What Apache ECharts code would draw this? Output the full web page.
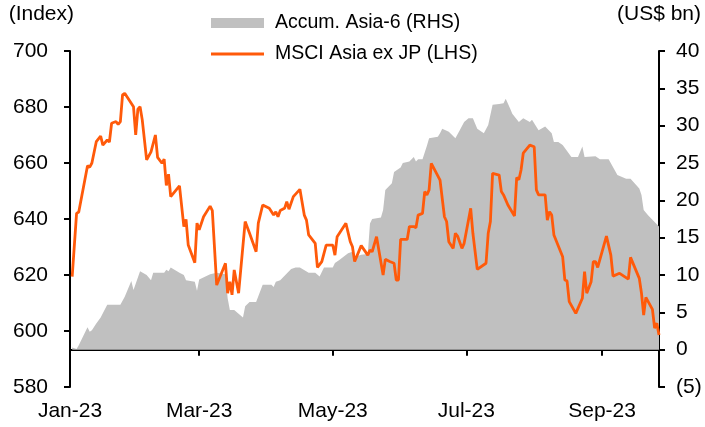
<!DOCTYPE html>
<html>
<head>
<meta charset="utf-8">
<script src="https://cdn.jsdelivr.net/npm/echarts@6/dist/echarts.min.js"></script>
<style>
html,body{margin:0;padding:0;background:#fff;}
#chart{width:705px;height:427px;}
</style>
</head>
<body>
<div id="chart"></div>
<script>
// MSCI Asia ex JP index (LHS)
var msciDates = ['2023-01-02','2023-01-04','2023-01-05','2023-01-09','2023-01-10','2023-01-11','2023-01-13','2023-01-15','2023-01-16','2023-01-18','2023-01-19','2023-01-20','2023-01-22','2023-01-23','2023-01-24','2023-01-25','2023-01-26','2023-01-30','2023-01-31','2023-02-01','2023-02-02','2023-02-03','2023-02-05','2023-02-07','2023-02-09','2023-02-10','2023-02-12','2023-02-13','2023-02-14','2023-02-15','2023-02-16','2023-02-20','2023-02-22','2023-02-23','2023-02-24','2023-02-27','2023-02-28','2023-03-01','2023-03-03','2023-03-06','2023-03-07','2023-03-09','2023-03-13','2023-03-14','2023-03-15','2023-03-16','2023-03-17','2023-03-19','2023-03-22','2023-03-24','2023-03-27','2023-03-28','2023-03-30','2023-04-02','2023-04-04','2023-04-05','2023-04-06','2023-04-07','2023-04-09','2023-04-10','2023-04-11','2023-04-13','2023-04-16','2023-04-18','2023-04-19','2023-04-20','2023-04-23','2023-04-24','2023-04-26','2023-04-28','2023-05-01','2023-05-02','2023-05-03','2023-05-07','2023-05-09','2023-05-10','2023-05-11','2023-05-14','2023-05-17','2023-05-18','2023-05-19','2023-05-21','2023-05-24','2023-05-25','2023-05-27','2023-05-29','2023-05-30','2023-05-31','2023-06-01','2023-06-04','2023-06-05','2023-06-07','2023-06-08','2023-06-09','2023-06-11','2023-06-12','2023-06-13','2023-06-14','2023-06-15','2023-06-19','2023-06-21','2023-06-22','2023-06-23','2023-06-25','2023-06-26','2023-06-27','2023-06-29','2023-06-30','2023-07-03','2023-07-04','2023-07-06','2023-07-10','2023-07-11','2023-07-12','2023-07-13','2023-07-16','2023-07-17','2023-07-18','2023-07-20','2023-07-23','2023-07-24','2023-07-25','2023-07-26','2023-07-27','2023-07-30','2023-08-01','2023-08-02','2023-08-03','2023-08-06','2023-08-07','2023-08-08','2023-08-09','2023-08-10','2023-08-14','2023-08-15','2023-08-16','2023-08-17','2023-08-20','2023-08-23','2023-08-24','2023-08-25','2023-08-27','2023-08-28','2023-08-29','2023-08-30','2023-09-03','2023-09-05','2023-09-06','2023-09-09','2023-09-13','2023-09-14','2023-09-18','2023-09-19','2023-09-20','2023-09-21','2023-09-24','2023-09-25','2023-09-26','2023-09-27'];
var msciValues = [619.4,642,642.5,659,658.5,660,667.6,669.6,666.4,668.2,667.5,674.2,674.8,673.8,674.8,684.3,684.9,680.1,670,679.2,680.1,675.4,661.1,664,670,662,659.9,661.4,652,656,648,651.8,637.3,639.9,630.7,624.4,638.5,636.1,640.8,644.6,643,616.4,624.2,613.5,617.6,612.9,621.8,613.5,639.1,634.9,628.3,638.5,645,643.8,641.4,642.6,640.8,643,643.8,646.2,643.5,648,650.6,641.4,639.6,634.3,631.3,622.7,624.8,630.7,630.7,627.1,633.7,638.5,631.9,630.1,624.8,630.5,627.1,628.9,628.3,633.7,620,625.6,624.8,624.2,618.2,618.2,632.7,632.7,637.3,637.3,636.9,641.4,642,649.8,648.6,650.4,659.9,653.9,640.8,639.1,631.9,629.5,634.9,633.9,629.5,631.3,643.8,634.9,622,624.2,634.9,639.1,656.3,655.7,649.8,648.6,645,641.1,654.8,654,657.5,663.5,666.4,665.8,650.4,648.6,648.6,639.6,642.6,641.4,634.3,626.5,618.2,617.9,610.5,606.3,611.7,621.2,613.5,617.6,624.8,624.8,622.7,633.9,627.1,619.6,620.6,618.5,626.3,618.8,613.5,605.7,612,607.7,601,602.8,598.6];

// Accumulated Asia-6 flows, US$ bn (RHS)
var flowDates = ['2023-01-02','2023-01-04','2023-01-05','2023-01-09','2023-01-10','2023-01-11','2023-01-13','2023-01-15','2023-01-18','2023-01-24','2023-01-26','2023-01-29','2023-01-30','2023-02-02','2023-02-05','2023-02-07','2023-02-08','2023-02-13','2023-02-14','2023-02-15','2023-02-16','2023-02-20','2023-02-22','2023-02-23','2023-02-27','2023-02-28','2023-03-01','2023-03-06','2023-03-09','2023-03-13','2023-03-14','2023-03-15','2023-03-17','2023-03-21','2023-03-22','2023-03-24','2023-03-27','2023-03-30','2023-04-03','2023-04-04','2023-04-05','2023-04-07','2023-04-10','2023-04-12','2023-04-14','2023-04-16','2023-04-20','2023-04-23','2023-04-25','2023-04-27','2023-05-01','2023-05-02','2023-05-04','2023-05-08','2023-05-10','2023-05-11','2023-05-14','2023-05-17','2023-05-18','2023-05-19','2023-05-23','2023-05-24','2023-05-25','2023-05-28','2023-05-29','2023-06-01','2023-06-02','2023-06-05','2023-06-07','2023-06-08','2023-06-09','2023-06-11','2023-06-13','2023-06-14','2023-06-18','2023-06-19','2023-06-20','2023-06-23','2023-06-26','2023-06-28','2023-06-30','2023-07-02','2023-07-04','2023-07-06','2023-07-09','2023-07-11','2023-07-13','2023-07-16','2023-07-18','2023-07-19','2023-07-21','2023-07-22','2023-07-25','2023-07-27','2023-07-30','2023-07-31','2023-08-03','2023-08-06','2023-08-09','2023-08-10','2023-08-12','2023-08-14','2023-08-18','2023-08-21','2023-08-23','2023-08-24','2023-08-29','2023-08-31','2023-09-04','2023-09-08','2023-09-12','2023-09-14','2023-09-18','2023-09-19','2023-09-20','2023-09-22','2023-09-25','2023-09-27'];
var flowValues = [0.3,0.1,0.6,3.0,2.4,2.6,3.5,4.3,6.0,6.0,7.1,9.2,8.0,10.5,10.0,9.3,10.3,10.3,10.7,10.5,11.0,10.3,10.0,9.3,9.1,7.9,9.4,10.1,10.3,10.1,6.9,5.3,5.3,4.3,5.8,6.4,6.4,8.7,8.7,8.4,9.1,9.3,10.2,10.8,11.0,11.0,10.3,10.3,9.8,11.0,11.0,11.6,12.0,12.9,13.1,12.4,12.7,12.8,16.9,17.5,17.7,18.7,21.4,22.3,23.8,24.4,25.0,25.2,25.8,25.2,25.5,25.5,27.3,28.3,28.5,29.0,29.6,29.2,28.3,29.4,30.5,31.0,31.0,29.6,29.0,30.1,32.8,32.9,33.0,33.6,32.3,31.6,30.5,31.0,30.5,30.8,29.4,29.9,29.0,27.8,27.8,27.4,25.8,25.8,27.2,25.8,25.9,25.5,25.5,23.4,22.9,22.9,21.6,20.7,18.7,18.0,17.1,16.5];

var months = ['Jan','Feb','Mar','Apr','May','Jun','Jul','Aug','Sep','Oct','Nov','Dec'];

window.onload = function(){
	// one category per calendar day, Jan 1 to Sep 27
	var days = [];
	var t = Date.UTC(2023,0,1), end = Date.UTC(2023,8,27);
	for(; t <= end; t += 86400000){
		days.push(new Date(t).toISOString().slice(0,10));
	}
	function isTick(idx, val){
		var m = +val.slice(5,7);
		return val.slice(8) === '01' && m % 2 === 1;
	}
	function pairs(d, v){
		return d.map(function(x, i){ return [x, v[i]]; });
	}
	var font = "'Liberation Sans', Arial, sans-serif";
	var myChart = echarts.init(document.getElementById('chart'));
	var option = {
		animation:false,
		textStyle:{fontFamily:font},
		grid:{left:70, right:46, top:51, bottom:40},
		legend:[{
			left:206, top:8,
			itemWidth:53, itemHeight:10,
			textStyle:{fontSize:19.5, color:'#000', padding:[0,0,0,6]},
			data:[{name:'Accum. Asia-6 (RHS)', icon:'rect'}]
		},{
			left:206, top:39,
			itemWidth:53, itemHeight:3,
			textStyle:{fontSize:19.5, color:'#000', padding:[0,0,0,6]},
			data:[{name:'MSCI Asia ex JP (LHS)', icon:'rect'}]
		}],
		xAxis:{
			type:'category',
			data:days,
			boundaryGap:false,
			axisLine:{lineStyle:{color:'#000', width:2}},
			axisTick:{interval:isTick, length:6, lineStyle:{color:'#000', width:2}},
			axisLabel:{
				interval:isTick, margin:14, fontSize:21, color:'#000',
				formatter:function(v){ return months[+v.slice(5,7)-1] + '-' + v.slice(2,4); }
			},
			splitLine:{show:false}
		},
		yAxis:[{
			type:'value',
			min:580, max:700, interval:20,
			name:'(Index)', nameLocation:'end', nameGap:26,
			nameTextStyle:{fontSize:21, color:'#000', align:'right', padding:[0,-4,0,0]},
			axisLine:{show:true, lineStyle:{color:'#000', width:2}},
			axisTick:{show:true, length:6, lineStyle:{color:'#000', width:2}},
			axisLabel:{fontSize:21, color:'#000', margin:22},
			splitLine:{show:false}
		},{
			type:'value',
			min:-5, max:40, interval:5,
			name:'(US$ bn)', nameLocation:'end', nameGap:26,
			nameTextStyle:{fontSize:21, color:'#000'},
			axisLine:{show:true, lineStyle:{color:'#000', width:2}},
			axisTick:{show:true, length:6, lineStyle:{color:'#000', width:2}},
			axisLabel:{
				fontSize:21, color:'#000', margin:17,
				formatter:function(v){ return v < 0 ? '(' + (-v) + ')' : v; }
			},
			splitLine:{show:false}
		}],
		series:[{
			name:'Accum. Asia-6 (RHS)',
			type:'line',
			yAxisIndex:1,
			symbol:'none',
			data:pairs(flowDates, flowValues),
			itemStyle:{color:'#c0c0c0'},
			lineStyle:{width:0, color:'#c0c0c0'},
			areaStyle:{color:'#c0c0c0', opacity:1}
		},{
			name:'MSCI Asia ex JP (LHS)',
			type:'line',
			yAxisIndex:0,
			symbol:'none',
			data:pairs(msciDates, msciValues),
			itemStyle:{color:'#ff5a0a'},
			lineStyle:{width:2.8, color:'#ff5a0a'}
		}]
	};
	myChart.setOption(option);
	window.addEventListener('resize',function(){
		myChart.resize();
	});
};
</script>
</body>
</html>
